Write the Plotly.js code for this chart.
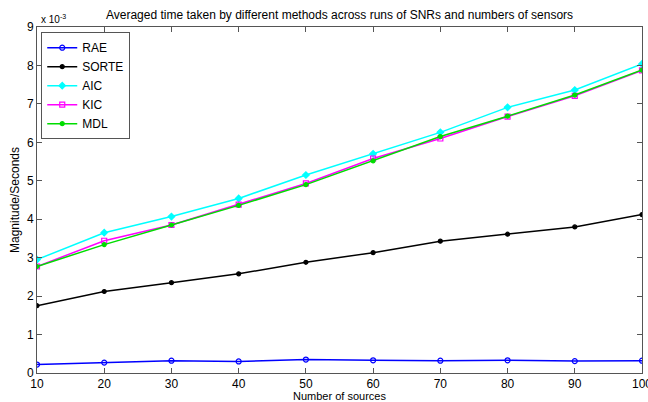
<!DOCTYPE html>
<html>
<head>
<meta charset="utf-8">
<script src="https://cdn.plot.ly/plotly-3.0.1.min.js"></script>
<style>html,body{margin:0;padding:0;background:#fff;}#chart{width:648px;height:402px;}</style>
</head>
<body>
<div id="chart"></div>
<script>
// Number of sources
const sources = [10, 20, 30, 40, 50, 60, 70, 80, 90, 100];
// Averaged time (in units of 1e-3 seconds)
const rae   = [0.22, 0.27, 0.32, 0.30, 0.35, 0.33, 0.32, 0.33, 0.31, 0.32];
const sorte = [1.75, 2.12, 2.35, 2.58, 2.88, 3.13, 3.43, 3.61, 3.80, 4.12];
const aic   = [2.95, 3.65, 4.07, 4.54, 5.15, 5.70, 6.26, 6.91, 7.36, 8.04];
const kic   = [2.77, 3.44, 3.85, 4.38, 4.93, 5.58, 6.10, 6.67, 7.21, 7.87];
const mdl   = [2.77, 3.34, 3.85, 4.36, 4.90, 5.52, 6.15, 6.68, 7.23, 7.88];
const yTicks = ['0','1','2','3','4','5','6','7','8','9'];
const xTicks = ['10','20','30','40','50','60','70','80','90','100'];

const scale = v => v.map(x => x * 1e-3);
function tr(name, ys, color, symbol, size) {
  return {x: sources, y: scale(ys), name: name, type: 'scatter', mode: 'lines+markers',
    line: {color: color, width: 1.5},
    marker: {symbol: symbol, size: size, color: color, line: {color: color, width: 1.2}}};
}
const data = [
  tr('RAE', rae, '#0000ff', 'circle-open', 5),
  tr('SORTE', sorte, '#000000', 'circle', 4),
  tr('AIC', aic, '#00ffff', 'diamond', 5),
  tr('KIC', kic, '#ff00ff', 'square-open', 5),
  tr('MDL', mdl, '#00dd00', 'circle', 4)
];
const font = {family: 'Liberation Sans, Arial, sans-serif', size: 12, color: '#000'};
const layout = {
  width: 648, height: 402,
  margin: {l: 37, r: 6, t: 27, b: 29},
  paper_bgcolor: '#fff', plot_bgcolor: '#fff',
  font: font,
  showlegend: true,
  title: {text: 'Averaged time taken by different methods across runs of SNRs and numbers of sensors',
    font: {family: font.family, size: 12, color: '#000'}, x: 0.524, xanchor: 'center', y: 0.962, yanchor: 'middle'},
  xaxis: {range: [10, 100], tickvals: sources, ticktext: xTicks, ticks: 'inside', ticklen: 5,
    ticklabeloverflow: 'allow',
    showgrid: false, zeroline: false, showline: true, mirror: 'ticks', linecolor: '#555', linewidth: 1,
    tickcolor: '#555', tickfont: {size: 12}, title: {text: 'Number of sources', font: {size: 11}, standoff: 3}},
  yaxis: {range: [0, 0.009], tickvals: yTicks.map((t, i) => i * 1e-3), ticktext: yTicks, ticks: 'inside', ticklen: 5,
    showgrid: false, zeroline: false, showline: true, mirror: 'ticks', linecolor: '#555', linewidth: 1,
    tickcolor: '#555', tickfont: {size: 12}, title: {text: 'Magnitude/Seconds', font: {size: 12}, standoff: 4}},
  legend: {x: 0.007, y: 0.985, xanchor: 'left', yanchor: 'top', bgcolor: '#fff', bordercolor: '#555', borderwidth: 1,
    font: {size: 12}, itemwidth: 30, tracegroupgap: 0},
  annotations: [{xref: 'paper', yref: 'paper', x: 0.0, y: 1.0, xanchor: 'left', yanchor: 'bottom', yshift: 0, xshift: 2,
    text: 'x 10<sup>-3</sup>', showarrow: false, font: {size: 10}}]
};
Plotly.newPlot('chart', data, layout, {displayModeBar: false, staticPlot: true});
</script>
</body>
</html>
